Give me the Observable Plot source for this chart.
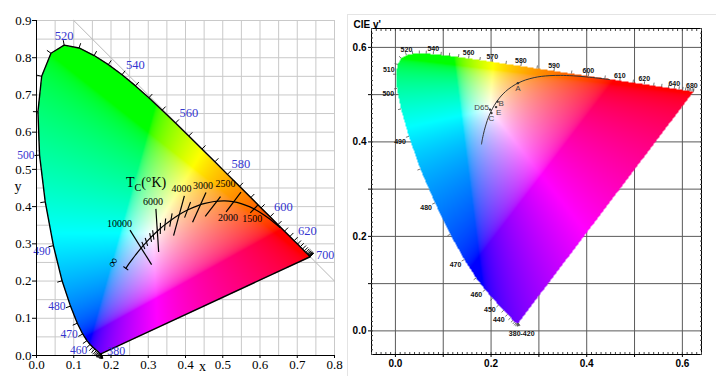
<!DOCTYPE html>
<html><head><meta charset="utf-8">
<script src="https://cdn.jsdelivr.net/npm/d3@7"></script>
<script src="https://cdn.jsdelivr.net/npm/@observablehq/plot@0.6"></script>
<style>
html,body{margin:0;padding:0;background:#fff;}
#wrap{position:relative;width:716px;height:376px;overflow:hidden;background:#fff;}
#left{position:absolute;left:0;top:0;}
#right{position:absolute;left:346px;top:0;}
#border{position:absolute;left:347px;top:14px;width:369px;height:362px;border-left:1px solid #e4e4e4;border-top:1px solid #e4e4e4;}
</style></head><body>
<div id="wrap"><div id="border"></div><div id="left"></div><div id="right"></div></div>
<script>
// ---- Spectral locus (CIE 1931 2°) ----
const wavelengths = [380,385,390,395,400,405,410,415,420,425,430,435,440,445,450,455,460,465,470,475,480,485,490,495,500,505,510,515,520,525,530,535,540,545,550,555,560,565,570,575,580,585,590,595,600,605,610,615,620,625,630,635,640,645,650,655,660,665,670,680,690,700];
const locusX = [0.1741,0.1740,0.1738,0.1736,0.1733,0.1730,0.1726,0.1721,0.1714,0.1703,0.1689,0.1669,0.1644,0.1611,0.1566,0.1510,0.1440,0.1355,0.1241,0.1096,0.0913,0.0687,0.0454,0.0235,0.0082,0.0039,0.0139,0.0389,0.0743,0.1142,0.1547,0.1929,0.2296,0.2658,0.3016,0.3373,0.3731,0.4087,0.4441,0.4788,0.5125,0.5448,0.5752,0.6029,0.6270,0.6482,0.6658,0.6801,0.6915,0.7006,0.7079,0.7140,0.7190,0.7230,0.7260,0.7283,0.7300,0.7311,0.7320,0.7334,0.7344,0.7347];
const locusY = [0.0050,0.0050,0.0049,0.0049,0.0048,0.0048,0.0048,0.0048,0.0051,0.0058,0.0069,0.0086,0.0109,0.0138,0.0177,0.0227,0.0297,0.0399,0.0578,0.0868,0.1327,0.2007,0.2950,0.4127,0.5384,0.6548,0.7502,0.8120,0.8338,0.8262,0.8059,0.7816,0.7543,0.7243,0.6923,0.6589,0.6245,0.5896,0.5547,0.5202,0.4866,0.4544,0.4242,0.3965,0.3725,0.3514,0.3340,0.3197,0.3083,0.2993,0.2920,0.2859,0.2809,0.2770,0.2740,0.2717,0.2700,0.2689,0.2680,0.2666,0.2656,0.2653];

// wavelength labels (left chart, grouped by side)
const leftLabelsTop = [520];
const leftLabelsUpperRight = [540,560,580,600,620];
const leftLabelsRight = [380,700];
const leftLabelsLeft = [470,480,500];
const leftLabelsLowerLeft = [460,490];
// wavelength labels (right chart)
const rightLabelsAbove = [520,540,560,570,580,590,600,610,620,640,680];
const rightLabelsLeft = [440,450,460,470,480,490,500,510];
const rightLabelsBelow = ["380-420"];

// ---- Planckian locus ----
const planckT = [1000,1200,1400,1500,1600,1800,2000,2200,2500,2800,3000,3500,4000,4500,5000,5500,6000,6500,7000,8000,9000,10000,12000,15000,20000,30000,Infinity];
const planckX = [0.6528,0.6251,0.5985,0.5857,0.5732,0.5493,0.5267,0.5056,0.4770,0.4523,0.4369,0.4053,0.3805,0.3608,0.3451,0.3325,0.3221,0.3135,0.3064,0.2952,0.2869,0.2807,0.2719,0.2637,0.2565,0.2498,0.2399];
const planckY = [0.3444,0.3674,0.3858,0.3931,0.3993,0.4082,0.4133,0.4152,0.4137,0.4086,0.4041,0.3907,0.3768,0.3636,0.3516,0.3411,0.3318,0.3236,0.3166,0.3048,0.2956,0.2883,0.2776,0.2673,0.2577,0.2486,0.2342];
const smallTickT = [9000,8000,7000,6500,5500,5000,4500,3500,Infinity];

// isotherms (upper end / lower end)
const isoT = [10000,6000,4000,3000,2500,2000,1500];
const isoUpperX = [0.251,0.3205,0.397,0.455,0.494,0.549,0.594];
const isoUpperY = [0.337,0.394,0.429,0.438,0.427,0.439,0.404];
const isoLowerX = [0.309,0.328,0.368,0.419,0.453,0.509,0.574];
const isoLowerY = [0.244,0.278,0.322,0.358,0.374,0.386,0.383];
const isoLabelLeft = [10000];
const isoLabelAbove = [6000,4000,3000];
const isoLabelAboveRight = [2500];
const isoLabelBelow = [2000,1500];

// standard illuminants (xy)
const illumName = ["A","B","C","D65","E"];
const illumX = [0.4476,0.3484,0.3101,0.3127,0.3333];
const illumY = [0.4074,0.3516,0.3162,0.3290,0.3333];
const illumBelow = ["A","C"];
const illumRight = ["B"];
const illumBelowRight = ["E"];
const illumLeft = ["D65"];

const annotations = [{label: "Tc(°K)", x: 0.24, y: 0.464}];

// ---- helpers ----
const uvPrime = (x, y) => { const d = -2*x + 12*y + 3; return [4*x/d, 9*y/d]; };
const uv1960 = (x, y) => { const d = -2*x + 12*y + 3; return [4*x/d, 6*y/d]; };
const xyFrom1960 = (u, v) => { const d = 2*u - 8*v + 4; return [3*u/d, 2*v/d]; };
const xyFromPrime = (u, v) => { const d = 6*u - 16*v + 12; return [9*u/d, 4*v/d]; };
const gam = c => c <= 0.0031308 ? 12.92*c : 1.055*Math.pow(c, 1/2.4) - 0.055;
function xyColor(x, y) {
  const X = x / y, Y = 1, Z = (1 - x - y) / y;
  let r = 3.2406*X - 1.5372*Y - 0.4986*Z;
  let g = -0.9689*X + 1.8758*Y + 0.0415*Z;
  let b = 0.0557*X - 0.2040*Y + 1.0570*Z;
  r = Math.max(0, r); g = Math.max(0, g); b = Math.max(0, b);
  const m = Math.max(r, g, b) || 1;
  return d3.rgb(255*gam(r/m), 255*gam(g/m), 255*gam(b/m)).formatHex();
}
function normals(pts) {
  return pts.map((p, i) => {
    const a = pts[Math.max(i-1, 0)], b = pts[Math.min(i+1, pts.length-1)];
    let tx = b[0]-a[0], ty = b[1]-a[1]; const L = Math.hypot(tx, ty) || 1;
    return [-ty/L, tx/L];
  });
}

const locusXY = wavelengths.map((w, i) => ({w, x: locusX[i], y: locusY[i]}));
const polyXY = locusXY.map(d => [d.x, d.y]);
const nXY = normals(polyXY);
const locusUV = locusXY.map(d => { const [u, v] = uvPrime(d.x, d.y); return {w: d.w, x: u, y: v}; });
const polyUV = locusUV.map(d => [d.x, d.y]);
const nUV = normals(polyUV);

const tickLenL = 0.0135, tickLenR = 0.0065;
const leftTicks = locusXY.map((d, i) => ({x1: d.x, y1: d.y, x2: d.x + nXY[i][0]*tickLenL, y2: d.y + nXY[i][1]*tickLenL}));
const rightTicks = locusUV.map((d, i) => ({x1: d.x, y1: d.y, x2: d.x + nUV[i][0]*tickLenR, y2: d.y + nUV[i][1]*tickLenR}));
const byW = (arr, list) => arr.filter(d => list.includes(d.w));

const planck = planckT.map((T, i) => ({T, x: planckX[i], y: planckY[i]}));
const planckUV = planck.map(d => { const [u, v] = uvPrime(d.x, d.y); return {T: d.T, x: u, y: v}; });
const planckTicks = smallTickT.map(T => {
  const i = planckT.indexOf(T), n = planckT.length;
  const a = uv1960(planckX[Math.max(i-1,0)], planckY[Math.max(i-1,0)]);
  const b = uv1960(planckX[Math.min(i+1,n-1)], planckY[Math.min(i+1,n-1)]);
  let tu = b[0]-a[0], tv = b[1]-a[1]; const L = Math.hypot(tu, tv); tu /= L; tv /= L;
  const c = uv1960(planckX[i], planckY[i]); const h = 0.0075;
  const p1 = xyFrom1960(c[0] - tv*h, c[1] + tu*h), p2 = xyFrom1960(c[0] + tv*h, c[1] - tu*h);
  return {T, x1: p1[0], y1: p1[1], x2: p2[0], y2: p2[1]};
});
const isotherms = isoT.map((T, i) => ({T, x1: isoUpperX[i], y1: isoUpperY[i], x2: isoLowerX[i], y2: isoLowerY[i]}));
const isoBy = list => isotherms.filter(d => list.includes(d.T));
const infPoint = planck.filter(d => d.T === Infinity);
const diag = [0.1, 0.8].map(x => ({x, y: 1 - x}));

const illum = illumName.map((name, i) => { const [u, v] = uvPrime(illumX[i], illumY[i]); return {name, x: u, y: v}; });
const illBy = list => illum.filter(d => list.includes(d.name));

// ---- Left chart: CIE 1931 xy ----
const serif = "Liberation Serif, DejaVu Serif, Times New Roman, serif";
const blue = "#3535cf";
const left = Plot.plot({
  width: 346, height: 376,
  marginLeft: 36, marginRight: 12, marginTop: 20, marginBottom: 21,
  x: {domain: [0, 0.8], label: null},
  y: {domain: [0, 0.9], label: null},
  color: {type: "identity"},
  style: {fontFamily: serif, fontSize: "13px", background: "transparent", overflow: "visible"},
  marks: [
    Plot.gridX(d3.range(0, 17).map(i => i*0.05), {stroke: "#c9c9c9", strokeOpacity: 1}),
    Plot.gridY(d3.range(0, 19).map(i => i*0.05), {stroke: "#c9c9c9", strokeOpacity: 1}),
    Plot.raster({x1: 0, x2: 0.8, y1: 0, y2: 0.9, fill: (x, y) => d3.polygonContains(polyXY, [x, y]) ? xyColor(x, y) : null}),
    Plot.line(diag, {x: "x", y: "y", stroke: "#b8b8b8", strokeWidth: 1}),
    Plot.line([...locusXY, locusXY[0]], {x: "x", y: "y", stroke: "black", strokeWidth: 1.4}),
    Plot.link(leftTicks, {x1: "x1", y1: "y1", x2: "x2", y2: "y2", stroke: "black", strokeWidth: 1}),
    Plot.text(byW(locusXY, leftLabelsTop), {x: "x", y: "y", text: d => String(d.w), fill: blue, fontSize: 12.5, textAnchor: "middle", lineAnchor: "bottom", dy: -5}),
    Plot.text(byW(locusXY, leftLabelsUpperRight), {x: "x", y: "y", text: d => String(d.w), fill: blue, fontSize: 12.5, textAnchor: "start", dx: 4, dy: -10}),
    Plot.text(byW(locusXY, leftLabelsRight), {x: "x", y: "y", text: d => String(d.w), fill: blue, fontSize: 12, textAnchor: "start", dx: 6, dy: -2}),
    Plot.text(byW(locusXY, leftLabelsLeft), {x: "x", y: "y", text: d => String(d.w), fill: blue, fontSize: 11.5, textAnchor: "end", dx: -5, dy: 0}),
    Plot.text(byW(locusXY, leftLabelsLowerLeft), {x: "x", y: "y", text: d => String(d.w), fill: blue, fontSize: 11.5, textAnchor: "end", dx: -3, dy: 6}),
    Plot.line(planck, {x: "x", y: "y", stroke: "black", strokeWidth: 1.2, curve: "catmull-rom"}),
    Plot.link(isotherms, {x1: "x1", y1: "y1", x2: "x2", y2: "y2", stroke: "black", strokeWidth: 1.2}),
    Plot.link(planckTicks, {x1: "x1", y1: "y1", x2: "x2", y2: "y2", stroke: "black", strokeWidth: 1.1}),
    Plot.text(isoBy(isoLabelLeft), {x: "x1", y: "y1", text: d => String(d.T), textAnchor: "end", dx: 2, dy: -6, fontSize: 10}),
    Plot.text(isoBy(isoLabelAbove), {x: "x1", y: "y1", text: d => String(d.T), dx: -3, dy: -7, fontSize: 10}),
    Plot.text(isoBy(isoLabelAboveRight), {x: "x1", y: "y1", text: d => String(d.T), dx: 5, dy: -13, fontSize: 10}),
    Plot.text(isoBy(isoLabelBelow), {x: "x2", y: "y2", text: d => String(d.T), dx: 2, dy: 6, fontSize: 10}),
    Plot.text(infPoint, {x: "x", y: "y", text: () => "∞", dx: -13, dy: -6, rotate: -60, fontSize: 13}),
    Plot.text(annotations, {x: "x", y: "y", text: "label", textAnchor: "start", fontSize: 14}),
    Plot.ruleX([0], {stroke: "black"}),
    Plot.ruleY([0], {stroke: "black"}),
    Plot.axisX({ticks: d3.range(0, 9).map(i => i/10), tickFormat: d => d.toFixed(1), tickSize: 3, tickPadding: 1, label: null}),
    Plot.axisY({ticks: d3.range(0, 10).map(i => i/10), tickFormat: d => d.toFixed(1), tickSize: 4, tickPadding: 1, label: null}),
    Plot.text(["x"], {frameAnchor: "bottom", dx: 17, dy: 15, fontSize: 14}),
    Plot.text(["y"], {frameAnchor: "left", dx: -22, dy: -1, fontSize: 14})
  ]
});
left.querySelectorAll("text").forEach(t => {
  if (t.textContent === "Tc(°K)") t.innerHTML = 'T<tspan dy="4" font-size="10">C</tspan><tspan dy="-4">(°K)</tspan>';
});
document.getElementById("left").append(left);

// ---- Right chart: CIE 1976 u'v' ----
const sans = "Liberation Sans, Arial, Helvetica, sans-serif";
const major = d3.range(0, 7).map(i => i/10);
const minor = d3.range(-5, 65).map(i => i/100);
const evenFmt = d => (Math.round(d*10) % 2 === 0 ? d.toFixed(1) : "");
const right = Plot.plot({
  width: 370, height: 376,
  marginLeft: 25, marginRight: 15, marginTop: 28, marginBottom: 22,
  x: {domain: [-0.05, 0.64], label: null},
  y: {domain: [-0.05, 0.64], label: null},
  color: {type: "identity"},
  style: {fontFamily: sans, fontSize: "10px", fontWeight: "bold", background: "transparent", overflow: "visible"},
  marks: [
    Plot.gridX(major, {stroke: "#5a5a5a", strokeOpacity: 1}),
    Plot.gridY(major, {stroke: "#5a5a5a", strokeOpacity: 1}),
    Plot.raster({x1: -0.05, x2: 0.64, y1: -0.05, y2: 0.64, fill: (u, v) => {
      if (!d3.polygonContains(polyUV, [u, v])) return null;
      const [x, y] = xyFromPrime(u, v); return xyColor(x, y);
    }}),
    Plot.link(rightTicks, {x1: "x1", y1: "y1", x2: "x2", y2: "y2", stroke: "#555", strokeWidth: 0.8}),
    Plot.text(byW(locusUV, rightLabelsAbove), {x: "x", y: "y", text: d => String(d.w), lineAnchor: "bottom", dy: -3, fontSize: 7, fill: "#111"}),
    Plot.text(byW(locusUV, rightLabelsLeft), {x: "x", y: "y", text: d => String(d.w), textAnchor: "end", dx: -3, dy: 5, fontSize: 7, fill: "#111"}),
    Plot.text(rightLabelsBelow.map(s => { const w = d3.mean(s.split("-").map(Number)); const d = locusUV.find(p => p.w === w); return {...d, label: s}; }),
      {x: "x", y: "y", text: "label", lineAnchor: "top", dx: 4, dy: 8, fontSize: 7, fill: "#111"}),
    Plot.line(planckUV, {x: "x", y: "y", stroke: "#333", strokeWidth: 1, curve: "catmull-rom"}),
    Plot.dot(illum, {x: "x", y: "y", r: 1.2, fill: "#333"}),
    Plot.text(illBy(illumBelow), {x: "x", y: "y", text: "name", lineAnchor: "top", dy: 2, fontSize: 8, fontWeight: "normal", fill: "#444"}),
    Plot.text(illBy(illumRight), {x: "x", y: "y", text: "name", textAnchor: "start", dx: 1, dy: 2, fontSize: 8, fontWeight: "normal", fill: "#444"}),
    Plot.text(illBy(illumBelowRight), {x: "x", y: "y", text: "name", textAnchor: "start", dx: 0, dy: 5, fontSize: 8, fontWeight: "normal", fill: "#444"}),
    Plot.text(illBy(illumLeft), {x: "x", y: "y", text: "name", textAnchor: "end", dx: -1, dy: -2, fontSize: 8, fontWeight: "normal", fill: "#444"}),
    Plot.frame({stroke: "black"}),
    Plot.axisX({anchor: "bottom", ticks: minor, tickSize: -2, tickFormat: () => "", label: null, stroke: "#444"}),
    Plot.axisX({anchor: "top", ticks: minor, tickSize: -2, tickFormat: () => "", label: null, stroke: "#444"}),
    Plot.axisY({anchor: "left", ticks: minor, tickSize: -2, tickFormat: () => "", label: null, stroke: "#444"}),
    Plot.axisY({anchor: "right", ticks: minor, tickSize: -2, tickFormat: () => "", label: null, stroke: "#444"}),
    Plot.axisX({anchor: "bottom", ticks: major, tickSize: 3, tickPadding: 2, tickFormat: evenFmt, label: null}),
    Plot.axisY({anchor: "left", ticks: major, tickSize: 3, tickPadding: 2, tickFormat: evenFmt, label: null}),
    Plot.text(["CIE v'"], {frameAnchor: "top-left", textAnchor: "start", dx: -18, dy: -8, fontSize: 10})
  ]
});
document.getElementById("right").append(right);
</script>
</body></html>
